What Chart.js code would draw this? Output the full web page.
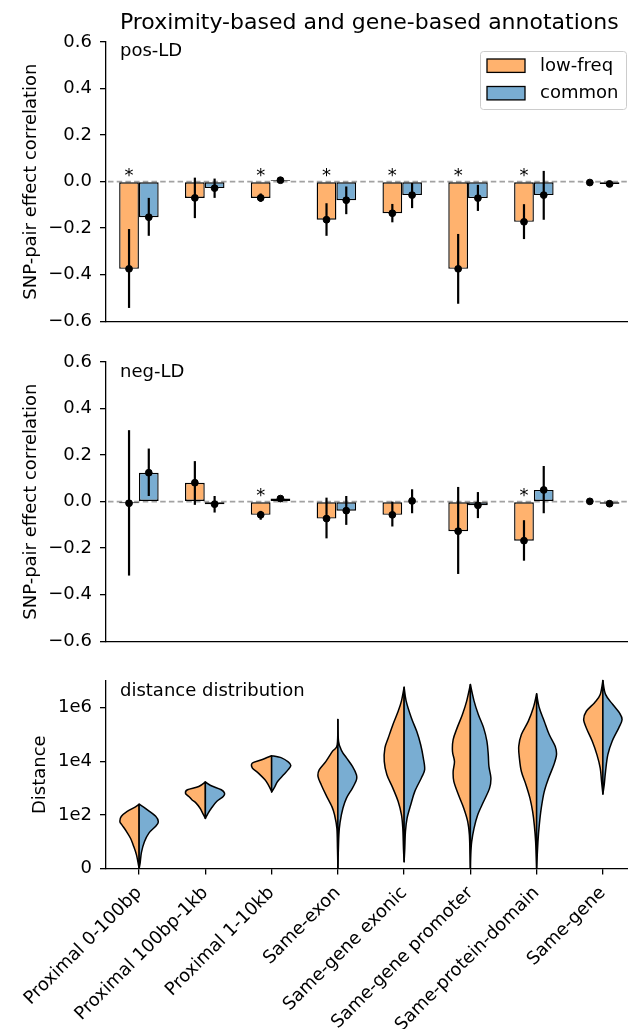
<!DOCTYPE html>
<html>
<head>
<meta charset="utf-8">
<title>Proximity-based and gene-based annotations</title>
<script src="https://cdn.jsdelivr.net/npm/chart.js"></script>
<style>
  html, body { margin: 0; padding: 0; background: #fff; overflow: hidden; }
  body { width: 628px; height: 1029px; position: relative; }
  canvas { position: absolute; left: 0; }
</style>
</head>
<body>
<canvas id="pos" width="637" height="340" style="top:0px"></canvas>
<canvas id="neg" width="637" height="320" style="top:340px"></canvas>
<canvas id="dist" width="637" height="369" style="top:660px"></canvas>
<script>
const categories = ['Proximal 0-100bp', 'Proximal 100bp-1kb', 'Proximal 1-10kb', 'Same-exon',
  'Same-gene exonic', 'Same-gene promoter', 'Same-protein-domain', 'Same-gene'];

// pos-LD panel
const lowPos   = [-0.375, -0.070, -0.070, -0.164, -0.136, -0.375, -0.173, -0.004];
const lowPosLo = [-0.543, -0.157, -0.087, -0.233, -0.175, -0.525, -0.247, -0.010];
const lowPosHi = [-0.204,  0.017, -0.051, -0.093, -0.096, -0.225, -0.097,  0.001];
const comPos   = [-0.153, -0.028,  0.006, -0.080, -0.058, -0.071, -0.058, -0.010];
const comPosLo = [-0.233, -0.070, -0.002, -0.140, -0.114, -0.126, -0.164, -0.015];
const comPosHi = [-0.070,  0.013,  0.013, -0.021, -0.006, -0.014,  0.046, -0.005];
const starPos  = [1, 0, 1, 1, 1, 1, 1, 0];

// neg-LD panel
const lowNeg   = [-0.007,  0.081, -0.057, -0.073, -0.057, -0.127, -0.168,  0.001];
const lowNegLo = [-0.318, -0.014, -0.078, -0.158, -0.107, -0.311, -0.254, -0.003];
const lowNegHi = [ 0.307,  0.174, -0.040,  0.017,  0.000,  0.063, -0.080,  0.005];
const comNeg   = [ 0.124, -0.011,  0.013, -0.039,  0.003, -0.016,  0.050, -0.009];
const comNegLo = [ 0.024, -0.047,  0.006, -0.100, -0.050, -0.071, -0.050, -0.013];
const comNegHi = [ 0.228,  0.024,  0.020,  0.024,  0.053,  0.041,  0.153, -0.005];
const starNeg  = [0, 0, 1, 0, 0, 0, 1, 0];

const corrTicks = [-0.6, -0.4, -0.2, 0, 0.2, 0.4, 0.6];
const distTicks = [0, 2, 4, 6];
const distTickLabels = ['0', '1e2', '1e4', '1e6'];

// violin outlines: [log10 distance, half width in category units], top to bottom
const lowViolin = [
  [[2.40,0],[2.31,0.05],[2.13,0.18],[1.94,0.27],[1.75,0.29],[1.63,0.26],[1.38,0.19],[1.13,0.13],[0.88,0.09],[0.51,0.04],[0,0]],
  [[3.23,0],[3.06,0.10],[2.94,0.27],[2.81,0.30],[2.69,0.25],[2.56,0.20],[2.44,0.14],[2.25,0.08],[2.06,0.04],[1.87,0]],
  [[4.21,0],[4.06,0.15],[3.94,0.29],[3.75,0.29],[3.56,0.20],[3.31,0.10],[3.12,0.05],[2.88,0]],
  [[5.56,0],[4.62,0.01],[4.38,0.08],[4.00,0.18],[3.69,0.28],[3.44,0.30],[3.12,0.25],[2.75,0.18],[2.31,0.09],[2.00,0.05],[1.50,0.015],[0.75,0.006],[0,0]],
  [[6.77,0],[6.26,0.04],[5.87,0.09],[5.37,0.17],[4.87,0.24],[4.50,0.29],[4.00,0.30],[3.50,0.26],[3.00,0.17],[2.50,0.09],[2.00,0.04],[1.50,0.02],[0.75,0.01],[0.25,0]],
  [[6.87,0],[6.26,0.055],[5.75,0.12],[5.25,0.20],[4.81,0.26],[4.37,0.27],[4.00,0.24],[3.62,0.26],[3.25,0.25],[2.75,0.18],[2.25,0.10],[1.75,0.04],[1.25,0.015],[0.50,0.005],[0,0]],
  [[6.52,0],[6.00,0.05],[5.50,0.125],[5.00,0.23],[4.56,0.27],[4.12,0.26],[3.62,0.23],[3.12,0.16],[2.62,0.10],[2.12,0.06],[1.62,0.035],[1.00,0.015],[0,0]],
  [[7.02,0],[6.50,0.04],[6.19,0.125],[5.87,0.25],[5.56,0.29],[5.19,0.24],[4.75,0.16],[4.25,0.09],[3.75,0.04],[3.25,0.02],[2.78,0]]
];
const commonViolin = [
  [[2.40,0],[2.20,0.12],[1.95,0.25],[1.75,0.29],[1.58,0.25],[1.33,0.15],[1.00,0.08],[0.60,0.035],[0.20,0.015],[0,0]],
  [[3.23,0],[3.10,0.08],[2.94,0.24],[2.81,0.29],[2.69,0.27],[2.50,0.17],[2.25,0.09],[2.06,0.04],[1.87,0]],
  [[4.21,0],[4.13,0.15],[3.98,0.25],[3.85,0.29],[3.69,0.25],[3.50,0.18],[3.25,0.09],[3.06,0.05],[2.85,0]],
  [[5.56,0],[4.75,0.01],[4.38,0.06],[4.13,0.13],[3.81,0.22],[3.50,0.28],[3.31,0.28],[3.00,0.22],[2.63,0.13],[2.25,0.076],[1.75,0.035],[1.25,0.015],[0,0]],
  [[6.77,0],[6.26,0.03],[5.62,0.11],[5.12,0.19],[4.62,0.25],[4.12,0.29],[3.69,0.31],[3.38,0.26],[2.87,0.16],[2.38,0.10],[1.88,0.045],[1.38,0.02],[0.75,0.01],[0.25,0]],
  [[6.87,0],[6.26,0.055],[5.75,0.12],[5.25,0.20],[4.75,0.25],[4.25,0.27],[3.81,0.28],[3.38,0.31],[3.00,0.29],[2.50,0.20],[2.00,0.11],[1.50,0.055],[1.00,0.02],[0.50,0.005],[0,0]],
  [[6.52,0],[6.00,0.04],[5.50,0.115],[5.00,0.19],[4.56,0.28],[4.25,0.30],[3.87,0.26],[3.37,0.18],[2.87,0.115],[2.25,0.07],[1.62,0.04],[1.00,0.02],[0,0]],
  [[7.02,0],[6.50,0.04],[6.12,0.15],[5.81,0.25],[5.56,0.29],[5.25,0.24],[4.75,0.14],[4.25,0.075],[3.62,0.04],[3.12,0.02],[2.78,0]]
];

const LOW = '#ffb26e', COM = '#79add2';
const SHIFT = 0.15;
const FONT = "'DejaVu Sans', sans-serif";

Chart.defaults.font.family = FONT;
Chart.defaults.font.size = 18;
Chart.defaults.color = '#000';
Chart.defaults.animation = false;

const catTicks = categories.map((c, i) => i);

function corrLabel(v) {
  if (Math.abs(v) < 1e-9) return '0.0';
  return v.toFixed(1).replace('-', '\u2212');
}

function yAxis(title, titlePad, tickVals, labelFn, min, max) {
  return {
    type: 'linear', min: min, max: max,
    afterBuildTicks: s => { s.ticks = tickVals.map(v => ({ value: v })); },
    afterFit: s => { s.width = 106; },
    ticks: { callback: labelFn, padding: 8 },
    grid: { drawOnChartArea: false, drawTicks: true, tickLength: 6, color: '#000', lineWidth: 1.3 },
    border: { display: true, color: '#000', width: 1.3 },
    title: { display: true, text: title, padding: { top: titlePad, bottom: 0 } }
  };
}

function panelText(chart, text, baseline) {
  const ctx = chart.ctx;
  ctx.save();
  ctx.font = '18px ' + FONT;
  ctx.fillStyle = '#000';
  ctx.textAlign = 'left';
  ctx.textBaseline = 'alphabetic';
  ctx.fillText(text, 120, baseline);
  ctx.restore();
}

function drawTitleAndLegend(chart) {
  const ctx = chart.ctx, a = chart.chartArea;
  ctx.save();
  ctx.font = '22px ' + FONT;
  ctx.fillStyle = '#000';
  ctx.textAlign = 'center';
  ctx.textBaseline = 'alphabetic';
  ctx.fillText('Proximity-based and gene-based annotations', (a.left + a.right) / 2, 29);

  // legend frame
  ctx.beginPath();
  ctx.roundRect(480.5, 51.5, 146, 58, 3);
  ctx.fillStyle = 'rgba(255,255,255,0.8)';
  ctx.fill();
  ctx.strokeStyle = '#cccccc';
  ctx.lineWidth = 1;
  ctx.stroke();
  [['low-freq', LOW, 59], ['common', COM, 86.5]].forEach(([t, col, y]) => {
    ctx.fillStyle = col;
    ctx.fillRect(487, y, 38, 13.4);
    ctx.strokeStyle = '#000';
    ctx.lineWidth = 1.3;
    ctx.strokeRect(487, y, 38, 13.4);
    ctx.fillStyle = '#000';
    ctx.font = '18px ' + FONT;
    ctx.textAlign = 'left';
    ctx.textBaseline = 'middle';
    ctx.fillText(t, 540, y + 7);
  });
  ctx.restore();
}

function barPanel(id, low, lowLo, lowHi, com, comLo, comHi, stars, label, labelBase, padTop, withTitle) {
  const extras = {
    id: 'extras_' + id,
    beforeDatasetsDraw(chart) {
      const { ctx, chartArea: a, scales: { y } } = chart;
      const y0 = y.getPixelForValue(0);
      ctx.save();
      ctx.strokeStyle = '#a2a2a2';
      ctx.lineWidth = 1.6;
      ctx.setLineDash([5.5, 3.2]);
      ctx.beginPath();
      ctx.moveTo(a.left + 2, y0);
      ctx.lineTo(a.right, y0);
      ctx.stroke();
      ctx.restore();
    },
    afterDatasetDraw(chart, args) {
      if (args.index !== 1) return;
      const { ctx, scales: { x, y } } = chart;
      ctx.save();
      ctx.strokeStyle = '#000';
      ctx.lineWidth = 2.2;
      const bars = (lo, hi, s) => lo.forEach((v, i) => {
        const px = x.getPixelForValue(i + s);
        ctx.beginPath();
        ctx.moveTo(px, y.getPixelForValue(v));
        ctx.lineTo(px, y.getPixelForValue(hi[i]));
        ctx.stroke();
      });
      bars(lowLo, lowHi, -SHIFT);
      bars(comLo, comHi, SHIFT);
      ctx.restore();
    },
    afterDraw(chart) {
      const { ctx, scales: { x, y } } = chart;
      ctx.save();
      ctx.font = '18px ' + FONT;
      ctx.fillStyle = '#000';
      ctx.textAlign = 'center';
      ctx.textBaseline = 'alphabetic';
      stars.forEach((s, i) => {
        if (s) ctx.fillText('*', x.getPixelForValue(i - SHIFT), y.getPixelForValue(0) - 1);
      });
      ctx.restore();
      panelText(chart, label, labelBase);
      if (withTitle) drawTitleAndLegend(chart);
    }
  };

  new Chart(document.getElementById(id), {
    type: 'bar',
    data: {
      datasets: [
        {
          type: 'scatter', label: 'mean',
          data: low.map((v, i) => ({ x: i - SHIFT, y: v })).concat(com.map((v, i) => ({ x: i + SHIFT, y: v }))),
          backgroundColor: '#000', borderColor: '#000', pointRadius: 3.4, pointHoverRadius: 3.4
        },
        {
          label: 'low-freq', data: low.map((v, i) => ({ x: i, y: v })),
          backgroundColor: LOW, borderColor: '#000', borderWidth: 1.4, borderSkipped: false,
          categoryPercentage: 0.6, barPercentage: 1
        },
        {
          label: 'common', data: com.map((v, i) => ({ x: i, y: v })),
          backgroundColor: COM, borderColor: '#000', borderWidth: 1.4, borderSkipped: false,
          categoryPercentage: 0.6, barPercentage: 1
        }
      ]
    },
    options: {
      responsive: false,
      devicePixelRatio: 1,
      layout: { padding: { top: padTop, right: 1, left: 0, bottom: 0 } },
      plugins: { legend: { display: false }, tooltip: { enabled: false } },
      scales: {
        x: {
          type: 'linear', min: -0.5, max: 7.5, offset: false,
          afterBuildTicks: s => { s.ticks = catTicks.map(v => ({ value: v })); },
          afterFit: s => { s.height = 17; },
          ticks: { display: false },
          grid: { offset: false, drawOnChartArea: false, drawTicks: false, color: '#000' },
          border: { display: true, color: '#000', width: 1.3 }
        },
        y: yAxis('SNP-pair effect correlation', 21, corrTicks, corrLabel, -0.6, 0.6)
      }
    },
    plugins: [extras]
  });
}

barPanel('pos', lowPos, lowPosLo, lowPosHi, comPos, comPosLo, comPosHi, starPos, 'pos-LD', 56, 42, true);
barPanel('neg', lowNeg, lowNegLo, lowNegHi, comNeg, comNegLo, comNegHi, starNeg, 'neg-LD', 36.5, 22, false);

function drawHalf(ctx, x, y, i, prof, side, color) {
  const pts = prof.map(([ly, w]) => [x.getPixelForValue(i + side * w), y.getPixelForValue(ly)]);
  ctx.beginPath();
  ctx.moveTo(pts[0][0], pts[0][1]);
  for (let k = 0; k < pts.length - 1; k++) {
    const p0 = pts[Math.max(k - 1, 0)], p1 = pts[k], p2 = pts[k + 1], p3 = pts[Math.min(k + 2, pts.length - 1)];
    ctx.bezierCurveTo(
      p1[0] + (p2[0] - p0[0]) / 6, p1[1] + (p2[1] - p0[1]) / 6,
      p2[0] - (p3[0] - p1[0]) / 6, p2[1] - (p3[1] - p1[1]) / 6,
      p2[0], p2[1]);
  }
  ctx.closePath();
  ctx.fillStyle = color;
  ctx.fill();
  ctx.lineWidth = 1.5;
  ctx.lineJoin = 'round';
  ctx.strokeStyle = '#000';
  ctx.stroke();
}

const violins = {
  id: 'violins',
  afterDatasetsDraw(chart) {
    const { ctx, chartArea: a, scales: { x, y } } = chart;
    ctx.save();
    ctx.beginPath();
    ctx.rect(a.left, a.top - 2, a.right - a.left, a.bottom - a.top + 2);
    ctx.clip();
    categories.forEach((c, i) => {
      drawHalf(ctx, x, y, i, lowViolin[i], -1, LOW);
      drawHalf(ctx, x, y, i, commonViolin[i], 1, COM);
    });
    ctx.restore();
  },
  afterDraw(chart) {
    panelText(chart, 'distance distribution', 35.5);
  }
};

new Chart(document.getElementById('dist'), {
  type: 'scatter',
  data: { datasets: [] },
  options: {
    responsive: false,
    devicePixelRatio: 1,
    layout: { padding: { top: 21, right: 1, left: 0, bottom: 0 } },
    plugins: { legend: { display: false }, tooltip: { enabled: false } },
    scales: {
      x: {
        type: 'linear', min: -0.5, max: 7.5,
        afterBuildTicks: s => { s.ticks = catTicks.map(v => ({ value: v })); },
        afterFit: s => { s.height = 160.5; },
        ticks: { callback: v => categories[v], autoSkip: false, minRotation: 45, maxRotation: 45, padding: 8 },
        grid: { drawOnChartArea: false, drawTicks: true, tickLength: 6, color: '#000', lineWidth: 1.3 },
        border: { display: true, color: '#000', width: 1.3 }
      },
      y: yAxis('Distance', 30, distTicks, (v, i) => distTickLabels[i], 0, 7)
    }
  },
  plugins: [violins]
});
</script>
</body>
</html>
